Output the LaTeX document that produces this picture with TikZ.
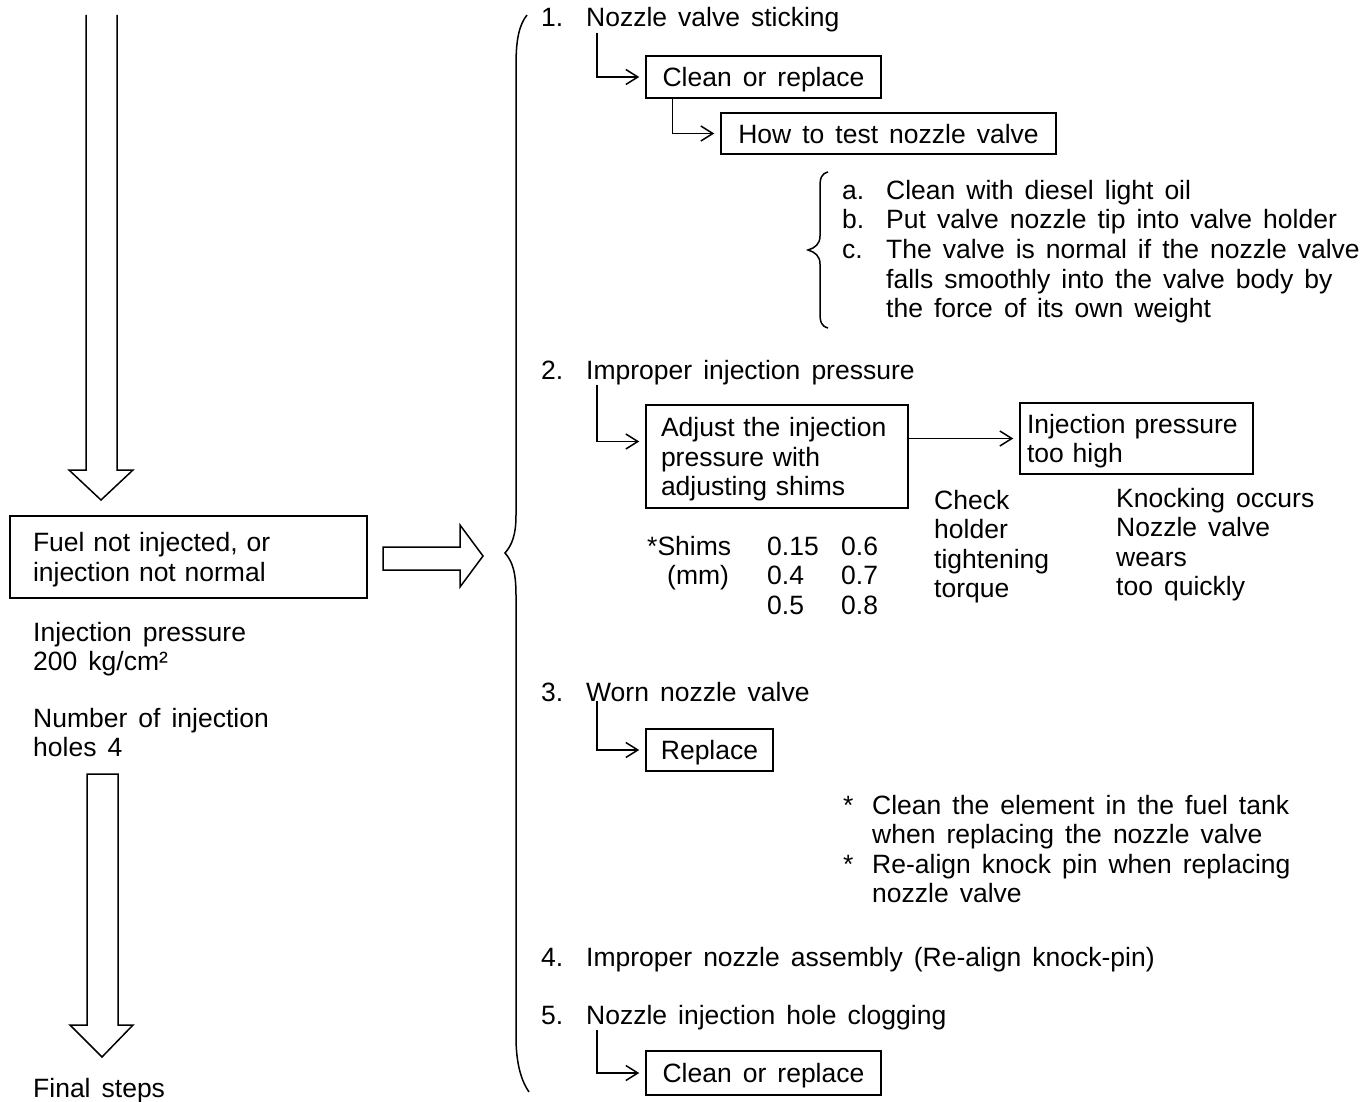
\documentclass[tikz,border=0pt]{standalone}
\usepackage{fontspec}
\setmainfont{Liberation Sans}[WordSpace=1.5]
\usepackage{tikz}
\usetikzlibrary{arrows.meta, positioning, calc}

\tikzset{
	texte/.style={inner sep=0pt, anchor=base west, align=left},
	boite/.style={draw, line width=1.5pt, inner sep=0pt, text depth=0pt, align=left},
	fleche/.style={line width=1.5pt, -{Straight Barb[length=12pt,width=15pt]}, shorten >=6pt},
	trait/.style={line width=1.5pt, line join=miter},
}

\begin{document}
\begin{tikzpicture}[x=1pt, y=-1pt, font=\fontsize{26.5}{29.5}\selectfont]
				\useasboundingbox (0,0) rectangle (1369,1102);
				% colonne de gauche (base = derniere ligne)
				\draw[trait] (86,15) -- (86,470) -- (69,470) -- (101,500) -- (133,470) -- (117,470) -- (117,15);
				\node[boite, text depth=29.5pt, minimum width=357pt, minimum height=82pt, text width=311pt] (panne) at (188.5,557) {Fuel not injected, or\\injection not normal};
				\draw[trait] (383,547) -- (460,547) -- (460,525) -- (483,556) -- (460,587) -- (460,570) -- (383,570) -- cycle;
				\node[texte] (pression) at (33,670.5) {Injection pressure\\200 kg/cm²};
				\node[texte] (trous) at (33,756.5) {Number of injection\\holes 4};
				\draw[trait] (87,774) -- (87,1025) -- (70,1025) -- (102,1057) -- (133,1025) -- (118,1025) -- (118,774) -- cycle;
				\node[texte] (fin) at (33,1097) {Final steps};
				% grande accolade
				\draw[trait] (527,15) .. controls (519,25) and (516,40) .. (516,65) -- (516,515)
				.. controls (516,535) and (512,545) .. (505,553)
				.. controls (512,561) and (516,571) .. (516,595) -- (516,1037)
				.. controls (516,1065) and (522,1082) .. (529,1092);
				% cause 1
				\node[texte] (n1) at (541,27) {1.};
				\node[texte] (t1) at (586,27) {Nozzle valve sticking};
				\node[boite, minimum width=235pt, minimum height=42pt] (b1) at (763.5,77) {Clean or replace};
				\node[boite, minimum width=335pt, minimum height=41pt] (b2) at (888.5,133.5) {How to test nozzle valve};
				\draw[fleche] ([xshift=11pt]t1.south west) |- (b1.west);
				\draw[fleche] ([xshift=27pt]b1.south west) |- (b2.west);
				\draw[trait] (828,172) .. controls (821,174) and (820,178) .. (820,188) -- (820,236)
				.. controls (820,244) and (815,248) .. (808,250)
				.. controls (815,252) and (820,256) .. (820,264) -- (820,312)
				.. controls (820,322) and (821,326) .. (828,328);
				\node[texte] (ia) at (842,200) {a.};
				\node[texte] (ta) at (886,200) {Clean with diesel light oil};
				\node[texte] (ib) at (842,229) {b.};
				\node[texte] (tb) at (886,229) {Put valve nozzle tip into valve holder};
				\node[texte] (ic) at (842,259) {c.};
				\node[texte] (tc) at (886,318) {The valve is normal if the nozzle valve\\falls smoothly into the valve body by\\the force of its own weight};
				% cause 2
				\node[texte] (n2) at (541,379) {2.};
				\node[texte] (t2) at (586,379) {Improper injection pressure};
				\node[boite, text depth=59pt, minimum width=262pt, minimum height=103pt, text width=232pt] (reglage) at (777,456.5) {Adjust the injection\\pressure with\\adjusting shims};
				\node[boite, text depth=29.5pt, minimum width=233pt, minimum height=71pt, text width=219pt] (haute) at (1136.5,438.5) {Injection pressure\\too high};
				\draw[fleche] ([xshift=11pt]t2.south west) |- ([yshift=15pt]reglage.west);
				\draw[fleche] (reglage.east |- haute.west) -- (haute.west);
				\node[texte] (verif) at (934,597.5) {Check\\holder\\tightening\\torque};
				\node[texte] (effets) at (1116,595.5) {Knocking occurs\\Nozzle valve\\wears\\too quickly};
				\node[texte] (shims) at (647,555) {*Shims};
				\node[texte] (mm) at (667,584) {(mm)};
				\node[texte] (cales1) at (767,614) {0.15\\0.4\\0.5};
				\node[texte] (cales2) at (841,614) {0.6\\0.7\\0.8};
				% cause 3
				\node[texte] (n3) at (541,701) {3.};
				\node[texte] (t3) at (586,701) {Worn nozzle valve};
				\node[boite, minimum width=127pt, minimum height=42pt] (rempl) at (709.5,750) {Replace};
				\draw[fleche] ([xshift=11pt]t3.south west) |- (rempl.west);
				\node[texte] (e1) at (843,814) {*};
				\node[texte] (ne1) at (872,843.5) {Clean the element in the fuel tank\\when replacing the nozzle valve};
				\node[texte] (e2) at (843,873) {*};
				\node[texte] (ne2) at (872,902.5) {Re-align knock pin when replacing\\nozzle valve};
				% causes 4 et 5
				\node[texte] (n4) at (541,966) {4.};
				\node[texte] (t4) at (586,966) {Improper nozzle assembly (Re-align knock-pin)};
				\node[texte] (n5) at (541,1024) {5.};
				\node[texte] (t5) at (586,1024) {Nozzle injection hole clogging};
				\node[boite, minimum width=235pt, minimum height=44pt] (b5) at (763.5,1073) {Clean or replace};
				\draw[fleche] ([xshift=11pt]t5.south west) |- (b5.west);
			\end{tikzpicture}
\end{document}
